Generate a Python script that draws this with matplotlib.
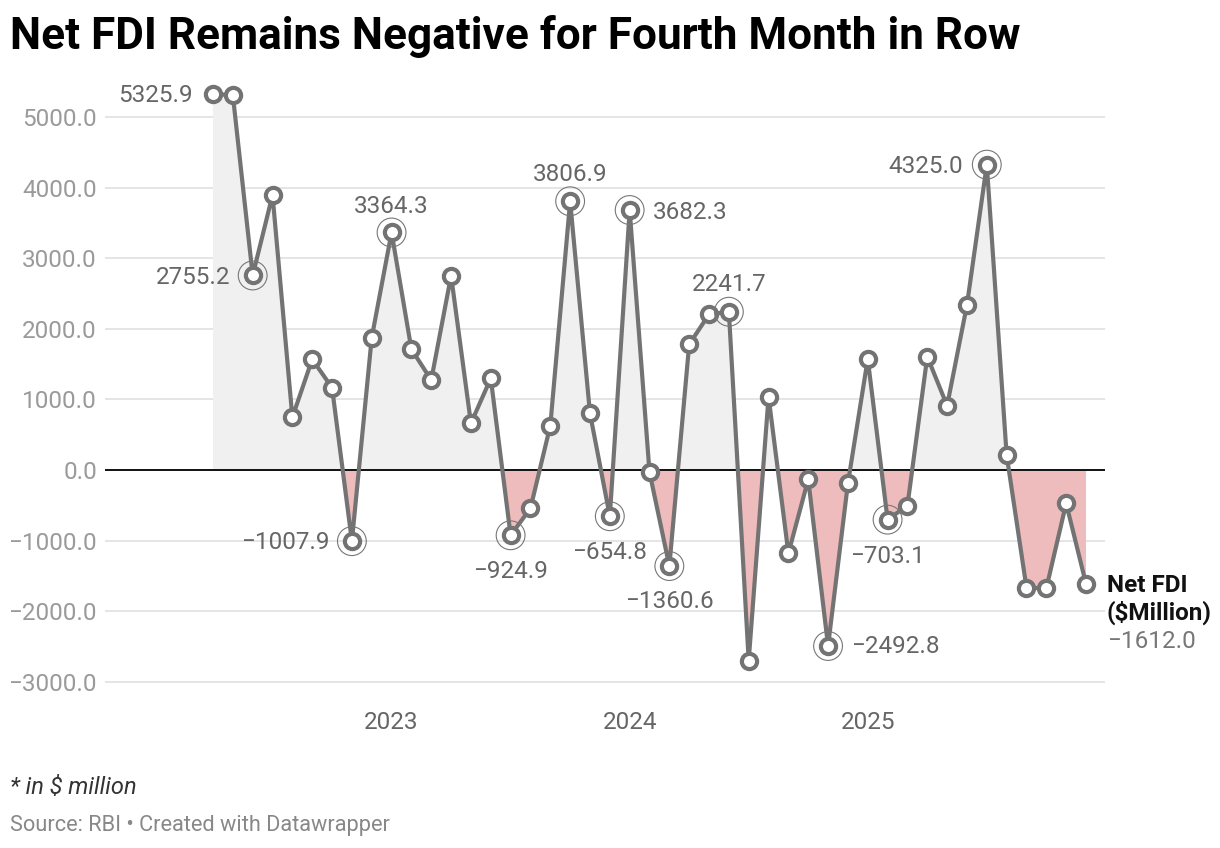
import numpy as np
import pandas as pd
import matplotlib
matplotlib.use("Agg")
import matplotlib.pyplot as plt

plt.rcParams['font.family'] = ['Roboto', 'DejaVu Sans']

# monthly net FDI, Apr 2022 .. Dec 2025 ($ million)
months = pd.date_range("2022-04-01", periods=45, freq="MS")
net_fdi = [5325.9, 5310, 2755.2, 3895, 746, 1568, 1166, -1007.9, 1874,
           3364.3, 1710, 1275, 2752, 661, 1298, -924.9, -543, 628,
           3806.9, 803, -654.8, 3682.3, -30, -1360.6, 1780, 2205, 2241.7,
           -2700, 1038, -1180, -132, -2492.8, -189, 1572, -703.1, -505,
           1605, 911, 2337, 4325.0, 212, -1667, -1676, -472, -1612.0]

year_ticks = ["2023", "2024", "2025"]
y_ticks = [-3000, -2000, -1000, 0, 1000, 2000, 3000, 4000, 5000]

# labelled points: index -> (dx px, dy px, ha, va)
labels = {0: (-20, -2, 'right', 'center'),
          2: (-22, -2, 'right', 'center'),
          9: (0, 26, 'center', 'center'),
          18: (0, 27, 'center', 'center'),
          21: (23, -2, 'left', 'center'),
          26: (0, 27, 'center', 'center'),
          39: (-24, -2, 'right', 'center'),
          7: (-22, -1, 'right', 'center'),
          15: (0, -36, 'center', 'center'),
          20: (0, -36, 'center', 'center'),
          23: (0, -35, 'center', 'center'),
          31: (23, -1, 'left', 'center'),
          34: (0, -37, 'center', 'center')}
rings = [2, 7, 9, 15, 18, 20, 21, 23, 26, 31, 34, 39]

x = np.arange(len(net_fdi))
y = np.array(net_fdi)

W, H = 1220, 848
fig = plt.figure(figsize=(W / 100, H / 100), dpi=100)
ax = fig.add_axes([105 / W, 1 - 700 / H, 1000 / W, 620 / H])

px_m = (1086 - 213) / 44
ax.set_xlim(-(213 - 105) / px_m, 44 + (1105 - 1086) / px_m)
ax.set_ylim(-(700 - 470) / 0.0706, (470 - 80) / 0.0706)

ax.fill_between(x, y, 0, where=y >= 0, interpolate=True, color='#f0f0f0', lw=0, zorder=1)
ax.fill_between(x, y, 0, where=y <= 0, interpolate=True, color='#eebcbc', lw=0, zorder=1)

for t in y_ticks:
    ax.axhline(t, color='#e3e3e3', lw=1.3, zorder=0.5)
ax.axhline(0, color='#111111', lw=1.4, zorder=2)

ax.plot(x, y, color='#737373', lw=3, zorder=3)
ax.scatter(x, y, s=120, facecolor='white', edgecolor='#737373', linewidth=3, zorder=4)
ax.scatter(x[rings], y[rings], s=430, facecolor='none', edgecolor='#777777', linewidth=0.8, zorder=4)

fs = 17.5
for i, (dx, dy, ha, va) in labels.items():
    ax.annotate(f"{net_fdi[i]:.1f}".replace('-', '\u2212'), (x[i], y[i]),
                xytext=(dx * 0.72, dy * 0.72), textcoords='offset points',
                ha=ha, va=va, fontsize=fs, color='#666666', zorder=5)

for s in ax.spines.values():
    s.set_visible(False)
ax.set_yticks(y_ticks)
ax.set_yticklabels([f"{t:.1f}".replace('-', '\u2212') for t in y_ticks])
ax.tick_params(axis='y', length=0, pad=5.8, labelsize=fs, labelcolor='#9a9a9a')
ax.set_xticks([9, 21, 33])
ax.set_xticklabels(year_ticks)
ax.tick_params(axis='x', length=0, pad=8, labelsize=fs, labelcolor='#666666')

# line end label
fig.text(1107 / W, 1 - 586 / H, "Net FDI", fontsize=fs, fontweight='bold', color='#111111', va='center')
fig.text(1107 / W, 1 - 613 / H, "($Million)", fontsize=fs, fontweight='bold', color='#111111', va='center')
fig.text(1107 / W, 1 - 642 / H, "\u22121612.0", fontsize=fs, color='#777777', va='center')

fig.text(10 / W, 1 - 37 / H, "Net FDI Remains Negative for Fourth Month in Row",
         fontsize=31.8, fontweight='bold', color='#000000', va='center')
fig.text(10 / W, 1 - 788 / H, "* in $ million", fontsize=17, style='italic', color='#333333', va='center')
fig.text(10 / W, 1 - 825 / H, "Source: RBI \u2022 Created with Datawrapper", fontsize=15.7,
         color='#888888', va='center')

fig.savefig("out.png", dpi=100)
